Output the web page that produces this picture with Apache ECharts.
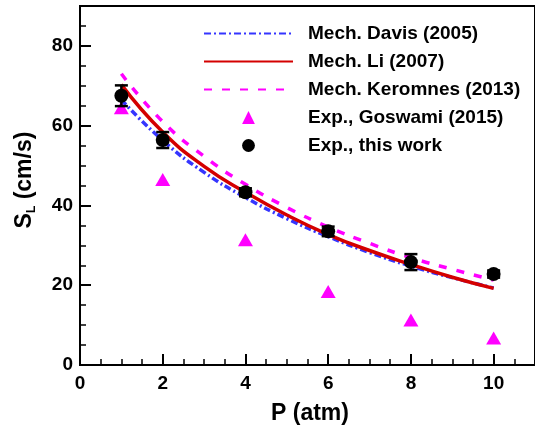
<!DOCTYPE html>
<html>
<head>
<meta charset="utf-8">
<script src="https://cdn.jsdelivr.net/npm/echarts@6/dist/echarts.min.js"></script>
<style>
  html, body { margin: 0; padding: 0; background: #fff; }
  #chart { width: 535px; height: 432px; }
</style>
</head>
<body>
<div id="chart"></div>
<script>
// Measured laminar flame speeds, S_L in cm/s, versus pressure in atm
const pressure = [1, 2, 4, 6, 8, 10];
const expSL = [67.5, 56.4, 43.3, 33.5, 25.8, 22.8];
const expErr = [2.6, 2.0, 1.0, 1.2, 2.0, 0.9];
const goswamiSL = [64.5, 46.5, 31.4, 18.4, 11.3, 6.8];

// Mechanism predictions
const mechP = [1, 2, 3, 4, 5, 6, 7, 8, 9, 10];
const davisSL = [66.5, 56.3, 48.3, 42.0, 36.7, 32.2, 28.2, 24.8, 21.9, 19.3];
const liSL = [70.3, 58.4, 49.8, 43.3, 37.6, 32.7, 28.7, 25.2, 22.0, 19.2];
const keromnesSL = [73.0, 61.0, 52.3, 45.3, 39.5, 34.6, 30.5, 26.9, 24.0, 21.3];

const names = [
  'Mech. Davis (2005)',
  'Mech. Li (2007)',
  'Mech. Keromnes (2013)',
  'Exp., Goswami (2015)',
  'Exp., this work'
];

const FONT = 'Liberation Sans, Arial, Helvetica, sans-serif';
const X_MIN = 0, X_MAX = 11, Y_MIN = 0, Y_MAX = 90;

const pairs = (xs, ys) => xs.map((x, i) => [x, ys[i]]);

const gridBox = { left: 80, top: 6, width: 460, height: 359 };

const chart = echarts.init(document.getElementById('chart'), null, { renderer: 'canvas' });

const option = {
  backgroundColor: '#fff',
  animation: false,
  grid: [
    Object.assign({ show: true, borderColor: '#000', borderWidth: 2, backgroundColor: 'transparent' }, gridBox),
    Object.assign({ show: false }, gridBox)
  ],
  xAxis: [
    // fine ticks every 0.5 atm
    {
      type: 'value', gridIndex: 0, min: X_MIN, max: X_MAX, interval: 0.5,
      axisLine: { lineStyle: { color: '#000', width: 2 } },
      axisTick: { inside: true, length: 6, lineStyle: { color: '#000', width: 1.5 } },
      axisLabel: { show: false },
      splitLine: { show: false }
    },
    // labelled ticks every 2 atm
    {
      type: 'value', gridIndex: 1, min: X_MIN, max: X_MAX, interval: 2,
      axisLine: { show: false },
      axisTick: { inside: true, length: 11, lineStyle: { color: '#000', width: 2 } },
      axisLabel: {
        margin: 9, color: '#000', fontFamily: FONT, fontWeight: 'bold', fontSize: 19,
        showMaxLabel: false
      },
      splitLine: { show: false }
    }
  ],
  yAxis: [
    {
      type: 'value', gridIndex: 0, min: Y_MIN, max: Y_MAX, interval: 5,
      axisLine: { lineStyle: { color: '#000', width: 2 } },
      axisTick: { inside: true, length: 6, lineStyle: { color: '#000', width: 1.5 } },
      axisLabel: { show: false },
      splitLine: { show: false }
    },
    {
      type: 'value', gridIndex: 1, min: Y_MIN, max: Y_MAX, interval: 20,
      axisLine: { show: false },
      axisTick: { inside: true, length: 11, lineStyle: { color: '#000', width: 2 } },
      axisLabel: {
        margin: 7, color: '#000', fontFamily: FONT, fontWeight: 'bold', fontSize: 19,
        showMaxLabel: false
      },
      splitLine: { show: false }
    }
  ],
  legend: {
    data: [
      { name: names[0], itemStyle: { opacity: 0 } },
      { name: names[1], itemStyle: { opacity: 0 } },
      { name: names[2], itemStyle: { opacity: 0 } },
      { name: names[3] },
      { name: names[4] }
    ],
    orient: 'vertical',
    left: 198,
    top: 19,
    itemWidth: 89,
    itemHeight: 16,
    itemGap: 9,
    selectedMode: false,
    textStyle: {
      color: '#000', fontFamily: FONT, fontWeight: 'bold', fontSize: 19,
      lineHeight: 16, padding: [0, 0, 0, 10]
    }
  },
  graphic: [
    {
      type: 'text', x: 310, y: 414, z: 10,
      style: {
        text: 'P (atm)', fill: '#000', fontFamily: FONT, fontWeight: 'bold', fontSize: 23,
        align: 'center', verticalAlign: 'middle'
      }
    },
    {
      type: 'text', x: 25, y: 180, rotation: Math.PI / 2, z: 10,
      style: {
        text: '{s|S}{l|L}{s| (cm/s)}',
        fill: '#000', align: 'center', verticalAlign: 'middle',
        rich: {
          s: { fontFamily: FONT, fontWeight: 'bold', fontSize: 23, lineHeight: 26, fill: '#000' },
          l: { fontFamily: FONT, fontWeight: 'bold', fontSize: 12, lineHeight: 12, verticalAlign: 'bottom', fill: '#000' }
        }
      }
    }
  ],
  series: [
    {
      name: names[0], type: 'line', xAxisIndex: 0, yAxisIndex: 0,
      data: pairs(mechP, davisSL), smooth: true, symbol: 'none', z: 3,
      lineStyle: { color: '#3535ff', width: 3.5, type: [7, 3, 2, 3] },
      itemStyle: { color: '#3535ff' }
    },
    {
      name: names[1], type: 'line', xAxisIndex: 0, yAxisIndex: 0,
      data: pairs(mechP, liSL), smooth: true, symbol: 'none', z: 4,
      lineStyle: { color: '#d40000', width: 3.5, type: 'solid' },
      itemStyle: { color: '#d40000' }
    },
    {
      name: names[2], type: 'line', xAxisIndex: 0, yAxisIndex: 0,
      data: pairs(mechP, keromnesSL), smooth: true, symbol: 'none', z: 3,
      lineStyle: { color: '#ff00ff', width: 3.5, type: [8, 10] },
      itemStyle: { color: '#ff00ff' }
    },
    {
      // markers only: the connecting line is kept invisible
      name: names[3], type: 'line', xAxisIndex: 0, yAxisIndex: 0,
      data: pairs(pressure, goswamiSL), symbol: 'triangle', symbolSize: [15, 13],
      showSymbol: true, z: 2,
      lineStyle: { opacity: 0, width: 0 },
      itemStyle: { color: '#ff00ff', opacity: 1 }
    },
    {
      name: 'errorbars', type: 'custom', xAxisIndex: 0, yAxisIndex: 0, z: 5,
      data: pressure.map((p, i) => [p, expSL[i] - expErr[i], expSL[i] + expErr[i]]),
      encode: { x: 0, y: [1, 2] },
      renderItem: (params, api) => {
        const x = api.value(0);
        const top = api.coord([x, api.value(2)]);
        const bot = api.coord([x, api.value(1)]);
        const hw = 6.5;
        const st = { stroke: '#000', lineWidth: 2.5 };
        return {
          type: 'group',
          children: [
            { type: 'line', shape: { x1: top[0], y1: top[1], x2: bot[0], y2: bot[1] }, style: st },
            { type: 'line', shape: { x1: top[0] - hw, y1: top[1], x2: top[0] + hw, y2: top[1] }, style: st },
            { type: 'line', shape: { x1: bot[0] - hw, y1: bot[1], x2: bot[0] + hw, y2: bot[1] }, style: st }
          ]
        };
      }
    },
    {
      name: names[4], type: 'line', xAxisIndex: 0, yAxisIndex: 0,
      data: pairs(pressure, expSL), symbol: 'circle', symbolSize: 14,
      showSymbol: true, z: 6,
      lineStyle: { opacity: 0, width: 0 },
      itemStyle: { color: '#000', opacity: 1 }
    }
  ]
};

chart.setOption(option);
</script>
</body>
</html>
